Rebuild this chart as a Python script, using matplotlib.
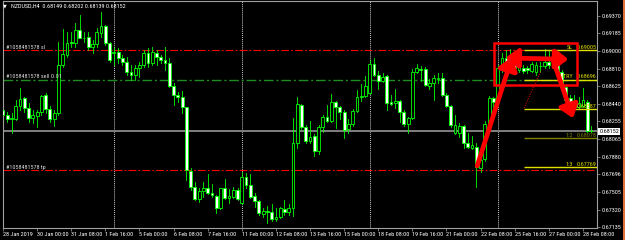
import matplotlib
matplotlib.use('Agg')
import matplotlib.pyplot as plt
from matplotlib import font_manager
from matplotlib.patches import Rectangle

# NZDUSD H4 bars, 28 Jan 16:00 .. 28 Feb 16:00
opens = [0.68376, 0.68323, 0.68281, 0.68281, 0.68419, 0.68500, 0.68401, 0.68288, 0.68313, 0.68351,
         0.68531, 0.68390, 0.68281, 0.68341, 0.68852, 0.68958, 0.69099, 0.69081, 0.69222, 0.69141,
         0.69145, 0.69039, 0.69071, 0.69194, 0.69268, 0.69081, 0.68975, 0.68986, 0.68923, 0.68887,
         0.68781, 0.68746, 0.68816, 0.68852, 0.68975, 0.68870, 0.68982, 0.68933, 0.68905, 0.68870,
         0.68633, 0.68535, 0.68517, 0.68405, 0.67732, 0.67559, 0.67433, 0.67524, 0.67549, 0.67496,
         0.67472, 0.67337, 0.67549, 0.67450, 0.67461, 0.67531, 0.67390, 0.67672, 0.67584, 0.67468,
         0.67415, 0.67277, 0.67312, 0.67295, 0.67221, 0.67242, 0.67330, 0.67302, 0.67337, 0.68024,
         0.68429, 0.68193, 0.68052, 0.68102, 0.67947, 0.68200, 0.68306, 0.68264, 0.68464, 0.68405,
         0.68358, 0.68172, 0.68228, 0.68366, 0.68517, 0.68524, 0.68552, 0.68863, 0.68746, 0.68683,
         0.68736, 0.68457, 0.68454, 0.68475, 0.68358, 0.68228, 0.68288, 0.68781, 0.68806, 0.68806,
         0.68630, 0.68665, 0.68708, 0.68711, 0.68535, 0.68419, 0.68137, 0.68130, 0.68207, 0.68024,
         0.67971, 0.67989, 0.67760, 0.67855, 0.68228, 0.68500, 0.68464, 0.68816, 0.68923, 0.68887,
         0.68877, 0.68799, 0.68816, 0.68816, 0.68792, 0.68781, 0.68841, 0.68841, 0.68887, 0.68863,
         0.68923, 0.68781, 0.68623, 0.68500, 0.68412, 0.68405, 0.68419, 0.68464, 0.68149]
highs = [0.68464, 0.68358, 0.68341, 0.68482, 0.68605, 0.68517, 0.68447, 0.68376, 0.68376, 0.68535,
         0.68552, 0.68419, 0.68376, 0.69099, 0.69229, 0.69204, 0.69197, 0.69292, 0.69380, 0.69204,
         0.69204, 0.69116, 0.69240, 0.69409, 0.69275, 0.69099, 0.69046, 0.69028, 0.68958, 0.68940,
         0.68852, 0.68852, 0.68887, 0.69011, 0.69028, 0.69046, 0.69011, 0.68958, 0.69046, 0.68923,
         0.68658, 0.68570, 0.68580, 0.68412, 0.67760, 0.67619, 0.67549, 0.67619, 0.67701, 0.67591,
         0.67479, 0.67556, 0.67644, 0.67538, 0.67566, 0.67549, 0.67725, 0.67707, 0.67701, 0.67496,
         0.67425, 0.67337, 0.67362, 0.67383, 0.67337, 0.67355, 0.67425, 0.67383, 0.68288, 0.68517,
         0.68440, 0.68218, 0.68264, 0.68120, 0.68218, 0.68323, 0.68429, 0.68545, 0.68475, 0.68419,
         0.68376, 0.68278, 0.68383, 0.68588, 0.68651, 0.68736, 0.68905, 0.68923, 0.68792, 0.68771,
         0.68743, 0.68535, 0.68595, 0.68482, 0.68376, 0.68306, 0.68806, 0.68863, 0.68841, 0.68834,
         0.68700, 0.68746, 0.68764, 0.68764, 0.68552, 0.68429, 0.68323, 0.68243, 0.68218, 0.68130,
         0.68102, 0.68024, 0.67883, 0.68264, 0.68524, 0.68517, 0.68852, 0.68975, 0.69011, 0.69018,
         0.68933, 0.68912, 0.68852, 0.68841, 0.68887, 0.68887, 0.68887, 0.69018, 0.69011, 0.69011,
         0.68958, 0.68799, 0.68641, 0.68535, 0.68535, 0.68517, 0.68605, 0.68482, 0.68202]
lows = [0.68271, 0.68253, 0.68137, 0.68271, 0.68376, 0.68358, 0.68253, 0.68236, 0.68200, 0.68323,
        0.68341, 0.68253, 0.68207, 0.68323, 0.68834, 0.68940, 0.69046, 0.69046, 0.69134, 0.69099,
        0.69011, 0.68975, 0.69046, 0.69152, 0.69064, 0.68887, 0.68852, 0.68870, 0.68852, 0.68746,
        0.68693, 0.68693, 0.68721, 0.68834, 0.68834, 0.68852, 0.68852, 0.68870, 0.68799, 0.68616,
        0.68429, 0.68464, 0.68341, 0.67637, 0.67531, 0.67425, 0.67407, 0.67461, 0.67486, 0.67454,
        0.67284, 0.67327, 0.67433, 0.67390, 0.67443, 0.67425, 0.67383, 0.67549, 0.67450, 0.67355,
        0.67266, 0.67249, 0.67186, 0.67203, 0.67207, 0.67231, 0.67266, 0.67266, 0.67256, 0.67971,
        0.68172, 0.68031, 0.68031, 0.67890, 0.67908, 0.68147, 0.68253, 0.68253, 0.68183, 0.68278,
        0.68077, 0.68130, 0.68207, 0.68352, 0.68475, 0.68517, 0.68542, 0.68736, 0.68595, 0.68669,
        0.68376, 0.68429, 0.68394, 0.68253, 0.68207, 0.68130, 0.68281, 0.68771, 0.68683, 0.68630,
        0.68595, 0.68482, 0.68658, 0.68524, 0.68405, 0.68193, 0.68123, 0.68095, 0.67971, 0.67971,
        0.67961, 0.67566, 0.67725, 0.67841, 0.68207, 0.68412, 0.68447, 0.68781, 0.68834, 0.68816,
        0.68781, 0.68781, 0.68771, 0.68764, 0.68781, 0.68746, 0.68781, 0.68816, 0.68816, 0.68834,
        0.68764, 0.68605, 0.68447, 0.68358, 0.68394, 0.68383, 0.68405, 0.68147, 0.68139]
closes = [0.68323, 0.68281, 0.68288, 0.68419, 0.68493, 0.68394, 0.68288, 0.68323, 0.68358, 0.68528,
          0.68383, 0.68281, 0.68341, 0.68852, 0.68965, 0.69088, 0.69081, 0.69222, 0.69141, 0.69134,
          0.69039, 0.69074, 0.69204, 0.69264, 0.69081, 0.68905, 0.68993, 0.68923, 0.68887, 0.68774,
          0.68746, 0.68816, 0.68852, 0.68975, 0.68870, 0.68986, 0.68940, 0.68905, 0.68870, 0.68630,
          0.68535, 0.68517, 0.68405, 0.67743, 0.67566, 0.67433, 0.67524, 0.67549, 0.67496, 0.67479,
          0.67337, 0.67549, 0.67450, 0.67468, 0.67531, 0.67433, 0.67665, 0.67584, 0.67461, 0.67415,
          0.67284, 0.67312, 0.67295, 0.67221, 0.67249, 0.67337, 0.67295, 0.67337, 0.68024, 0.68436,
          0.68193, 0.68052, 0.68095, 0.67947, 0.68200, 0.68299, 0.68264, 0.68464, 0.68405, 0.68352,
          0.68165, 0.68228, 0.68366, 0.68517, 0.68524, 0.68633, 0.68863, 0.68746, 0.68683, 0.68729,
          0.68447, 0.68440, 0.68475, 0.68352, 0.68228, 0.68288, 0.68781, 0.68816, 0.68799, 0.68641,
          0.68665, 0.68718, 0.68715, 0.68535, 0.68419, 0.68218, 0.68218, 0.68207, 0.68024, 0.67982,
          0.68006, 0.67778, 0.67848, 0.68228, 0.68500, 0.68464, 0.68816, 0.68923, 0.68887, 0.68834,
          0.68816, 0.68898, 0.68792, 0.68799, 0.68863, 0.68852, 0.68845, 0.68887, 0.68852, 0.68940,
          0.68781, 0.68623, 0.68482, 0.68376, 0.68447, 0.68447, 0.68482, 0.68158, 0.68152]

tick_bars = [0, 8, 16, 24, 32, 40, 48, 56, 64, 72, 80, 88, 96, 104, 112, 120, 128, 136]
tick_labels = ['28 Jan 2019', '30 Jan 00:00', '31 Jan 08:00', '1 Feb 16:00', '5 Feb 00:00',
               '6 Feb 08:00', '7 Feb 16:00', '11 Feb 00:00', '12 Feb 08:00', '13 Feb 16:00',
               '15 Feb 00:00', '18 Feb 08:00', '19 Feb 16:00', '21 Feb 00:00', '22 Feb 08:00',
               '25 Feb 16:00', '27 Feb 00:00', '28 Feb 08:00']
price_ticks = [0.69370, 0.69185, 0.69000, 0.68810, 0.68625, 0.68440, 0.68255,
               0.68065, 0.67880, 0.67696, 0.67505, 0.67320, 0.67135]
week_starts = [26, 56, 86, 116]

ticket = '#1058481578'
sl_price = 0.69005
entry_price = 0.68696
tp_price = 0.67740
bid = closes[-1]
rr_names = ['SL', 'ENTRY', '1:1', '1:2', '1:3']
rr_levels = [0.69005, 0.68696, 0.68387, 0.68078, 0.67769]
rr_colors = ['#e0e000', '#e0e000', '#e0e000', '#808000', '#e0e000']

# narrow font if there is one, else shrink DejaVu
names = {f.name for f in font_manager.fontManager.ttflist}
narrow = [n for n in ['Liberation Sans Narrow', 'Roboto Condensed', 'DejaVu Sans Condensed']
          if n in names]
if narrow:
    FONT, fs, fsx = [narrow[0], 'DejaVu Sans'], 4.4, 4.4
else:
    FONT, fs, fsx = ['DejaVu Sans'], 3.7, 3.3
lime = '#00ff00'

fig = plt.figure(figsize=(6.25, 2.4), dpi=100, facecolor='black')
ax = fig.add_axes([3/625, 12/240, 594/625, 227/240])
ax.set_facecolor('black')
ax.set_xlim(0.09, 139.3)
ax.set_ylim(0.67129, 0.69528)

# separators, order lines
for w in week_starts:
    ax.axvline(w, color='#c8c8c8', ls=(0, (1, 1)), lw=0.7, zorder=1)
dashdot = (0, (7, 2, 1.5, 2))
ax.axhline(sl_price, color='#ff0000', ls=dashdot, lw=0.8, zorder=1)
ax.axhline(entry_price, color='#1e8c1e', ls=dashdot, lw=1.0, zorder=1)
ax.axhline(tp_price, color='#ff0000', ls=dashdot, lw=0.8, zorder=1)
ax.axhline(bid, color='#808080', lw=1.4, zorder=1)

# candles
for i in range(len(opens)):
    o, h, l, c = opens[i], highs[i], lows[i], closes[i]
    ax.plot([i, i], [l, h], color=lime, lw=0.6, zorder=2)
    body = max(abs(c - o), 0.00002)
    face = 'white' if c < o else 'black'
    ax.add_patch(Rectangle((i - 0.33, min(o, c)), 0.66, body, facecolor=face,
                           edgecolor=lime, lw=0.6, zorder=3))

# risk/reward levels
for name, lev, col in zip(rr_names, rr_levels, rr_colors):
    ax.hlines(lev, 122.2, 139.3, colors=col, lw=1.0, zorder=4)
    ax.text(133.6, lev + 0.00003, name, color=col, fontsize=fs, family=FONT,
            ha='right', va='bottom', zorder=5)
    ax.text(139.2, lev + 0.00003, f'{lev:.5f}', color=col, fontsize=fs, family=FONT,
            ha='right', va='bottom', zorder=5)

ax.plot([122.2, 126.2], [0.68398, 0.68800], color='#ff0000', ls=(0, (1, 1.5)), lw=0.7, zorder=4)

# hand drawn markup
ax.add_patch(Rectangle((115.2, 0.68641), 19.4, 0.00443, fill=False, edgecolor='#ff0000',
                       lw=1.8, zorder=6))
arrow = dict(arrowstyle='-|>,head_length=0.5,head_width=0.38', color='#ff0000', lw=3.4,
             mutation_scale=15, shrinkA=0, shrinkB=0)
ax.annotate('', xy=(119.4, 0.68937), xytext=(111.2, 0.67785), arrowprops=arrow, zorder=7)
ax.annotate('', xy=(132.6, 0.68912), xytext=(117.8, 0.68926),
            arrowprops=dict(arrow, arrowstyle='<|-|>,head_length=0.5,head_width=0.38'), zorder=7)
ax.annotate('', xy=(133.7, 0.68289), xytext=(129.0, 0.68905), arrowprops=arrow, zorder=7)

# order labels
for lab, lev in [(ticket + ' sl', sl_price), (ticket + ' sell 0.01', entry_price), (ticket + ' tp', tp_price)]:
    ax.text(0.8, lev + 0.00004, lab, color='#d8d8d8', fontsize=fs, family=FONT,
            va='bottom', ha='left', zorder=5)

# axes styling
for s in ax.spines.values():
    s.set_color('#a0a0a0')
    s.set_linewidth(0.8)
ax.yaxis.tick_right()
ax.set_yticks(price_ticks)
ax.set_yticklabels([f'{p:.5f}' for p in price_ticks], family=FONT, fontsize=fs)
ax.set_xticks(tick_bars)
ax.set_xticklabels(tick_labels, ha='left', family=FONT, fontsize=fsx)
ax.tick_params(axis='both', colors='#a0a0a0', labelcolor='white',
               length=2, width=0.5, pad=1.2)

ax.text(1.004, bid, f'{bid:.5f}', transform=ax.get_yaxis_transform(), color='black',
        fontsize=fs, family=FONT, va='center', ha='left', clip_on=False,
        bbox=dict(boxstyle='square,pad=0.15', facecolor='white', edgecolor='none'))

fig.text(3/625, 1 - 6/240, '\u25bc', color='white', fontsize=3.5, va='center', ha='left')
fig.text(11/625, 1 - 6/240,
         f'NZDUSD,H4  {opens[-1]:.5f} {highs[-1]:.5f} {lows[-1]:.5f} {closes[-1]:.5f}',
         color='white', fontsize=fs, family=FONT, va='center', ha='left')
fig.add_artist(Rectangle((623/625, 0), 2/625, 1, transform=fig.transFigure,
                         facecolor='#e0703a', edgecolor='none'))

fig.savefig('out.png', dpi=100, facecolor='black')
